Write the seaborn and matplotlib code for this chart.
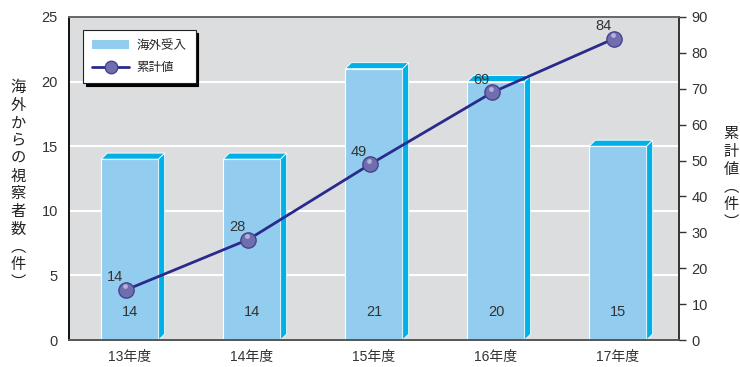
import numpy as np
import matplotlib
matplotlib.use("Agg")
import matplotlib.pyplot as plt
from matplotlib.patches import Polygon, Patch
from matplotlib.lines import Line2D
import seaborn as sns

categories = ["13年度", "14年度", "15年度", "16年度", "17年度"]
visitors = [14, 14, 21, 20, 15]
cumulative = [14, 28, 49, 69, 84]
left_ticks = [0, 5, 10, 15, 20, 25]
right_ticks = [0, 10, 20, 30, 40, 50, 60, 70, 80, 90]
left_label = "海外からの視察者数︵件︶"
right_label = "累計値︵件︶"

sns.set_style("white")
plt.rcParams['font.family'] = ['Liberation Sans', 'Noto Sans CJK JP', 'DejaVu Sans']
CJK = ['Noto Sans CJK JP', 'DejaVu Sans']

FRONT = "#92CDEF"
SIDE = "#00B0E6"
LINE = "#2A2A8C"
BG = "#DCDDDF"
TXT = "#333333"

fig = plt.figure(figsize=(7.4, 3.67), dpi=100)
ax = fig.add_axes([69/740, 27/367, 610/740, 323/367])
ax.set_facecolor(BG)

sns.barplot(x=categories, y=visitors, color=FRONT, saturation=1, width=0.47,
            edgecolor="white", linewidth=0.8, ax=ax, zorder=2)
ax.set_xlim(-0.5, 4.5)
ax.set_ylim(0, 25)
ax.set_yticks(left_ticks)
ax.set_axisbelow(True)
ax.yaxis.grid(True, color="white", linewidth=1.5)
ax.xaxis.grid(False)

# 3D faces derived from bar patches
dx = 6 / 122.0
dy = 6 / 323.0 * 25
for p in ax.patches[:len(visitors)]:
    x0 = p.get_x(); w = p.get_width(); h = p.get_height()
    top = Polygon([(x0, h), (x0 + dx, h + dy), (x0 + w + dx, h + dy), (x0 + w, h)],
                  closed=True, facecolor=SIDE, edgecolor="white", linewidth=0.6, zorder=2)
    side = Polygon([(x0 + w, 0), (x0 + w + dx, dy), (x0 + w + dx, h + dy), (x0 + w, h)],
                   closed=True, facecolor=SIDE, edgecolor="white", linewidth=0.6, zorder=2)
    ax.add_patch(top); ax.add_patch(side)
    ax.text(x0 + w / 2, 2.2, str(int(h)), ha="center", va="center",
            fontsize=10.5, color=TXT, zorder=3)

ax.set_xlabel(""); ax.set_ylabel("")
ax.tick_params(axis="y", which="both", length=0, labelsize=10.5, labelcolor=TXT, pad=8)
ax.tick_params(axis="x", which="major", length=0, labelsize=10, labelcolor=TXT, pad=7)
ax.set_xticks([0.5, 1.5, 2.5, 3.5], minor=True)
ax.tick_params(axis="x", which="minor", direction="in", length=6, width=1, color="#333333")

for s, c in [("left", "#111111"), ("bottom", "#555555"), ("top", "#666666"), ("right", "#333333")]:
    ax.spines[s].set_visible(True)
    ax.spines[s].set_color(c)
    ax.spines[s].set_linewidth(1.4)

ax2 = ax.twinx()
xs = np.arange(len(cumulative))
sns.lineplot(x=xs - 0.03, y=cumulative, ax=ax2, color=LINE, linewidth=2,
             marker="o", markersize=11, markerfacecolor="#706EAE",
             markeredgecolor="#46448C", markeredgewidth=1, zorder=5)
ax2.scatter(xs - 0.045, np.array(cumulative) + 1.0, s=12, color="#B4B2DA",
            zorder=6, linewidths=0)
ax2.set_xlim(-0.5, 4.5)
ax2.set_ylim(0, 90)
ax2.set_yticks(right_ticks)
ax2.tick_params(axis="y", direction="out", length=5, width=1, color="#333333",
                labelsize=10.5, labelcolor=TXT, pad=4)
ax2.set_ylabel("")
for xv, v in zip(xs - 0.03, cumulative):
    ax2.annotate(str(v), (xv, v), xytext=(-8, 9), textcoords="offset points",
                 ha="center", va="center", fontsize=10.5, color=TXT, zorder=7)
for s in ["left", "bottom", "top", "right"]:
    ax2.spines[s].set_visible(False)

handles = [Patch(facecolor=FRONT, edgecolor="none", label="海外受入"),
           Line2D([0], [0], color=LINE, linewidth=2, marker="o", markersize=9,
                  markerfacecolor="#706EAE", markeredgecolor="#46448C", label="累計値")]
leg = ax2.legend(handles=handles, loc="upper left", bbox_to_anchor=(0.023, 0.96),
                 prop={"family": CJK, "size": 9}, frameon=True, fancybox=False, framealpha=1,
                 edgecolor="#222222", shadow={"color": "black", "alpha": 1},
                 handlelength=3.0, borderpad=0.7, labelspacing=0.75, borderaxespad=0,
                 handletextpad=0.6)
leg.get_frame().set_linewidth(0.8)

fig.text(18/740, 1 - 185/367, "\n".join(left_label), ha="center", va="center",
         fontsize=11, color="#222222", linespacing=1.05, family=CJK)
fig.text(731/740, 1 - 178/367, "\n".join(right_label), ha="center", va="center",
         fontsize=11, color="#222222", linespacing=1.05, family=CJK)

fig.savefig("out.png", dpi=100)
